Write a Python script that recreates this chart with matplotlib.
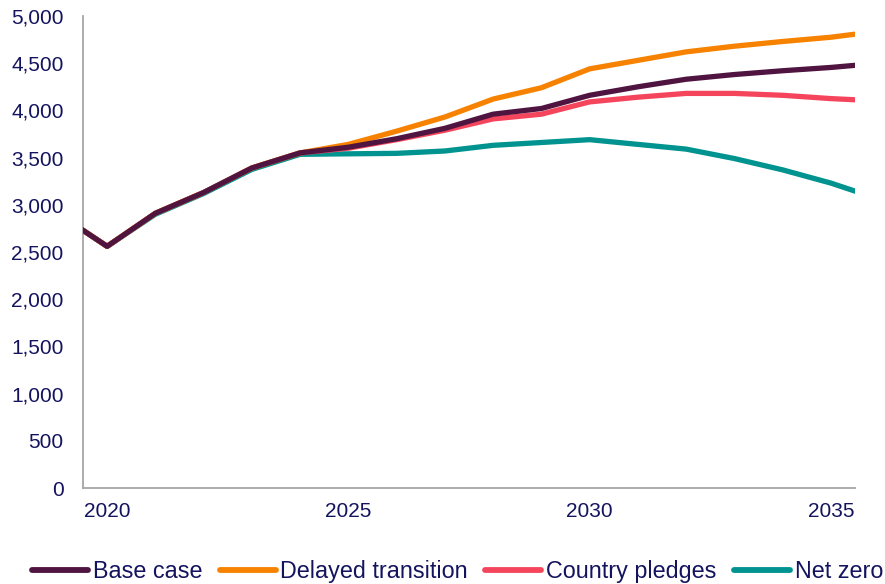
import matplotlib.pyplot as plt

plt.rcParams['font.family'] = ['Liberation Sans', 'DejaVu Sans']

# years (data runs a little past the visible axis, as in the original)
years = list(range(2019, 2037))

base_case = [2900, 2560, 2910, 3130, 3390, 3550, 3610, 3700, 3810, 3960, 4020,
             4160, 4250, 4330, 4380, 4420, 4455, 4500]
delayed = [2900, 2560, 2910, 3130, 3390, 3550, 3640, 3780, 3930, 4120, 4240,
           4440, 4530, 4620, 4680, 4730, 4775, 4840]
pledges = [2900, 2560, 2910, 3130, 3390, 3550, 3600, 3690, 3790, 3910, 3960,
           4090, 4140, 4180, 4180, 4160, 4125, 4100]
net_zero = [2900, 2560, 2900, 3120, 3375, 3535, 3540, 3545, 3570, 3630, 3660,
            3690, 3640, 3590, 3490, 3370, 3230, 3060]

tick_years = [2020, 2025, 2030, 2035]
y_ticks = list(range(0, 5001, 500))

text_col = '#13135E'

fig = plt.figure(figsize=(8.85, 5.84), dpi=100)
ax = fig.add_axes([83/885, 96/584, 772/885, 472/584])

lw = 3.8
ax.plot(years, net_zero, color='#00938F', lw=lw, label='Net zero', zorder=2)
ax.plot(years, pledges, color='#F5455C', lw=lw, label='Country pledges', zorder=3)
ax.plot(years, delayed, color='#F78200', lw=lw, label='Delayed transition', zorder=4)
ax.plot(years, base_case, color='#4F1440', lw=lw, label='Base case', zorder=5)

ax.set_xlim(2019.5, 2035.5)
ax.set_ylim(0, 5000)
ax.set_xticks(tick_years)
ax.set_yticks(y_ticks)
ax.set_yticklabels([f'{v:,}' for v in y_ticks])

for s in ['top', 'right']:
    ax.spines[s].set_visible(False)
for s in ['left', 'bottom']:
    ax.spines[s].set_color('#A6A6A6')
    ax.spines[s].set_linewidth(1.3)

ax.tick_params(axis='both', length=0, labelsize=15, colors=text_col)
ax.tick_params(axis='y', pad=14)
ax.tick_params(axis='x', pad=10)

handles, labels = ax.get_legend_handles_labels()
order = [3, 2, 1, 0]
leg = fig.legend([handles[i] for i in order], [labels[i] for i in order],
                 loc='lower center', bbox_to_anchor=(0.517, -0.034), ncol=4,
                 frameon=False, fontsize=16.8, handlelength=2.4,
                 handletextpad=0.2, columnspacing=0.75)
for t in leg.get_texts():
    t.set_color(text_col)
for h in leg.legend_handles:
    h.set_linewidth(4.2)
    h.set_solid_capstyle('round')

fig.savefig('out.png', dpi=100)
